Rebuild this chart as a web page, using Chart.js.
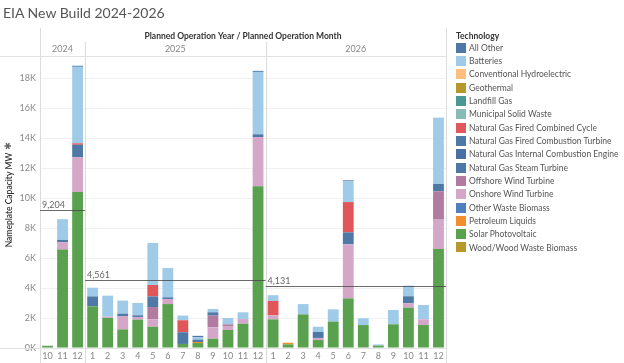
<!DOCTYPE html>
<html>
<head>
<meta charset="utf-8">
<script src="https://cdn.jsdelivr.net/npm/chart.js@4/dist/chart.umd.min.js"></script>
<style>
  html, body { margin: 0; padding: 0; background: #fff; }
  #wrap { position: relative; width: 624px; height: 363px; overflow: hidden; font-family: Lato, "Open Sans", sans-serif; }
  #c { position: absolute; left: 0; top: 0; }
  #title { position: absolute; left: 3px; top: 4px; font-size: 14px; color: #555; white-space: nowrap; }
  #legend { position: absolute; left: 456px; top: 30px; }
  #legend .lt { font-size: 8.5px; font-weight: bold; color: #333; height: 12px; line-height: 12px; }
  #legend .it { position: absolute; left: 0; height: 12px; line-height: 12px; font-size: 8.5px; color: #555; white-space: nowrap; }
  #legend .sw { display: inline-block; width: 10px; height: 10px; vertical-align: middle; margin-right: 3px; margin-top: -2px; }
</style>
</head>
<body>
<div id="wrap">
  <canvas id="c" width="624" height="363"></canvas>
  <div id="title">EIA New Build 2024-2026</div>
  <div id="legend"></div>
</div>
<script>
// ---- Data ----
const years = ['2024', '2025', '2026'];
const monthCounts = [3, 12, 12];
const monthLabels = ['10','11','12',
  '1','2','3','4','5','6','7','8','9','10','11','12',
  '1','2','3','4','5','6','7','8','9','10','11','12'];

// Technologies in legend order
const technologies = [
  'All Other', 'Batteries', 'Conventional Hydroelectric', 'Geothermal', 'Landfill Gas',
  'Municipal Solid Waste', 'Natural Gas Fired Combined Cycle', 'Natural Gas Fired Combustion Turbine',
  'Natural Gas Internal Combustion Engine', 'Natural Gas Steam Turbine', 'Offshore Wind Turbine',
  'Onshore Wind Turbine', 'Other Waste Biomass', 'Petroleum Liquids', 'Solar Photovoltaic',
  'Wood/Wood Waste Biomass'
];
const techColors = [
  '#4e79a7', '#a0cbe8', '#ffbe7d', '#b6992d', '#499894',
  '#86bcb6', '#e15759', '#4e79a7',
  '#4a6fa5', '#4e79a7', '#b07aa1',
  '#d4a6c8', '#4f7fc0', '#f28e2b', '#59a14f',
  '#b6992d'
];

// Nameplate capacity (MW) per month: 2024 Oct-Dec, 2025 Jan-Dec, 2026 Jan-Dec
const allOther   = [0, 0, 70,    0, 0, 0, 0, 0, 0, 0, 100, 0, 0, 0, 70,    0, 0, 0, 0, 0, 70, 0, 0, 0, 0, 0, 0];
const batteries  = [0, 1380, 5100,  580, 1400, 870, 820, 2800, 1950, 310, 150, 220, 420, 450, 4160,  380, 0, 690, 350, 820, 1380, 450, 80, 960, 710, 960, 4420];
const ngcc       = [0, 0, 100,   0, 0, 0, 0, 760, 0, 800, 0, 0, 0, 0, 0,    960, 0, 0, 0, 0, 2020, 0, 0, 0, 0, 0, 0];
const ngct       = [0, 160, 820,  660, 0, 160, 110, 710, 110, 780, 160, 220, 0, 0, 180,  0, 0, 0, 400, 0, 800, 0, 0, 0, 470, 0, 490];
const offshore   = [0, 0, 0,     0, 0, 0, 0, 820, 0, 0, 0, 780, 110, 0, 0,   0, 0, 0, 0, 0, 0, 0, 0, 0, 0, 0, 1890];
const onshore    = [0, 490, 2330,  0, 90, 890, 180, 490, 340, 0, 0, 760, 270, 310, 3290,  270, 0, 0, 140, 0, 3600, 0, 0, 0, 290, 380, 1960];
const petroleum  = [0, 0, 0,     0, 0, 0, 0, 0, 0, 0, 70, 0, 0, 0, 0,      0, 110, 0, 0, 0, 0, 0, 0, 0, 0, 0, 0];
const solar      = [150, 6560, 10400,  2780, 2000, 1240, 1890, 1420, 2930, 270, 330, 620, 1200, 1620, 10780,  1910, 240, 2240, 530, 1760, 3310, 1530, 160, 1580, 2690, 1530, 6600];
const zeros      = new Array(27).fill(0);

const techValues = {
  'All Other': allOther,
  'Batteries': batteries,
  'Natural Gas Fired Combined Cycle': ngcc,
  'Natural Gas Fired Combustion Turbine': ngct,
  'Offshore Wind Turbine': offshore,
  'Onshore Wind Turbine': onshore,
  'Petroleum Liquids': petroleum,
  'Solar Photovoltaic': solar
};

// Per-year average reference lines (MW)
const yearAverages = [9204, 4561, 4131];
const yTickValues = [0, 2000, 4000, 6000, 8000, 10000, 12000, 14000, 16000, 18000];

// ---- Build datasets (stack bottom-up = reverse legend order) ----
const datasets = technologies.map((t, i) => ({
  label: t,
  data: techValues[t] || zeros,
  backgroundColor: techColors[i],
  borderWidth: 0,
  barPercentage: 0.72,
  categoryPercentage: 1.0
})).reverse();

// ---- Legend (HTML) ----
const leg = document.getElementById('legend');
const lt = document.createElement('div');
lt.className = 'lt'; lt.textContent = 'Technology';
lt.style.position = 'absolute'; lt.style.top = '0px'; lt.style.left = '0px';
leg.appendChild(lt);
technologies.forEach((t, i) => {
  const d = document.createElement('div');
  d.className = 'it';
  d.style.top = (11.7 + i * 13.33) + 'px';
  d.innerHTML = '<span class="sw" style="background:' + techColors[i] + '"></span>' + t;
  leg.appendChild(d);
});

const FONT = 'Lato, "Open Sans", sans-serif';

const decor = {
  id: 'decor',
  beforeDatasetsDraw(chart) {
    const { ctx, chartArea: { left, right, top, bottom } } = chart;
    ctx.save();
    ctx.strokeStyle = '#e2e2e2';
    ctx.lineWidth = 1;
    ctx.beginPath();
    ctx.moveTo(0, top + 0.5); ctx.lineTo(right, top + 0.5);
    ctx.moveTo(0, bottom + 0.5); ctx.lineTo(right, bottom + 0.5);
    ctx.stroke();
    ctx.restore();
  },
  afterDraw(chart) {
    const { ctx, chartArea: { left, right, top, bottom }, scales: { x, y } } = chart;
    const catW = x.getPixelForValue(1) - x.getPixelForValue(0);
    ctx.save();
    ctx.strokeStyle = '#dcdcdc';
    ctx.lineWidth = 1;
    let idx = 0;
    const bounds = [];
    years.forEach((yr, i) => {
      const x0 = x.getPixelForValue(idx) - catW / 2;
      idx += monthCounts[i];
      const x1 = x.getPixelForValue(idx - 1) + catW / 2;
      bounds.push([x0, x1]);
    });
    ctx.beginPath();
    ctx.moveTo(Math.round(left) + 0.5, 28); ctx.lineTo(Math.round(left) + 0.5, 363);
    ctx.moveTo(Math.round(right) + 0.5, 28); ctx.lineTo(Math.round(right) + 0.5, 363);
    for (let i = 1; i < bounds.length; i++) {
      const bx = Math.round(bounds[i][0]) + 0.5;
      ctx.moveTo(bx, 42); ctx.lineTo(bx, 363);
    }
    ctx.stroke();

    // header texts
    ctx.fillStyle = '#333';
    ctx.font = 'bold 8.5px ' + FONT;
    ctx.textAlign = 'center';
    ctx.textBaseline = 'middle';
    ctx.fillText('Planned Operation Year / Planned Operation Month', 243, 36);
    ctx.fillStyle = '#888';
    ctx.font = '9px ' + FONT;
    bounds.forEach((b, i) => {
      ctx.fillText(years[i], (b[0] + b[1]) / 2, 49);
    });

    // average reference lines
    ctx.font = '9px ' + FONT;
    bounds.forEach((b, i) => {
      const yy = Math.round(y.getPixelForValue(yearAverages[i])) + 0.5;
      ctx.strokeStyle = 'rgba(70,70,70,0.8)';
      ctx.beginPath();
      ctx.moveTo(b[0], yy); ctx.lineTo(b[1], yy);
      ctx.stroke();
      ctx.fillStyle = '#666';
      ctx.textAlign = 'left';
      ctx.textBaseline = 'alphabetic';
      ctx.fillText(yearAverages[i].toLocaleString('en-US'), b[0] + 2, yy - 3);
    });

    // y axis title
    ctx.translate(9, 200);
    ctx.rotate(-Math.PI / 2);
    ctx.fillStyle = '#333';
    ctx.font = '600 8.5px ' + FONT;
    ctx.textAlign = 'center';
    ctx.textBaseline = 'middle';
    ctx.fillText('Nameplate Capacity MW', 0, 0);
    ctx.fillStyle = '#666';
    ctx.font = '9px "DejaVu Sans"';
    ctx.fillText('\u2731', 54, 0);
    ctx.restore();
  }
};

new Chart(document.getElementById('c'), {
  type: 'bar',
  data: { labels: monthLabels, datasets },
  options: {
    responsive: false,
    animation: false,
    layout: { padding: { top: 56, right: 178, left: 0, bottom: 0 } },
    plugins: { legend: { display: false }, tooltip: { enabled: false }, title: { display: false } },
    scales: {
      x: {
        stacked: true,
        offset: true,
        grid: { display: false, drawTicks: false },
        border: { display: false },
        ticks: { color: '#888', font: { size: 9, family: FONT }, padding: 3, maxRotation: 0, autoSkip: false },
        afterFit: s => { s.height = 15; }
      },
      y: {
        stacked: true,
        min: 0,
        max: 19470,
        grid: { color: '#f0f0f0', drawTicks: false },
        border: { display: false },
        afterBuildTicks: s => { s.ticks = yTickValues.map(v => ({ value: v })); },
        ticks: {
          color: '#888', font: { size: 9, family: FONT }, padding: 4,
          callback: v => (v / 1000) + 'K'
        },
        afterFit: s => { s.width = 40; }
      }
    }
  },
  plugins: [decor]
});
</script>
</body>
</html>
